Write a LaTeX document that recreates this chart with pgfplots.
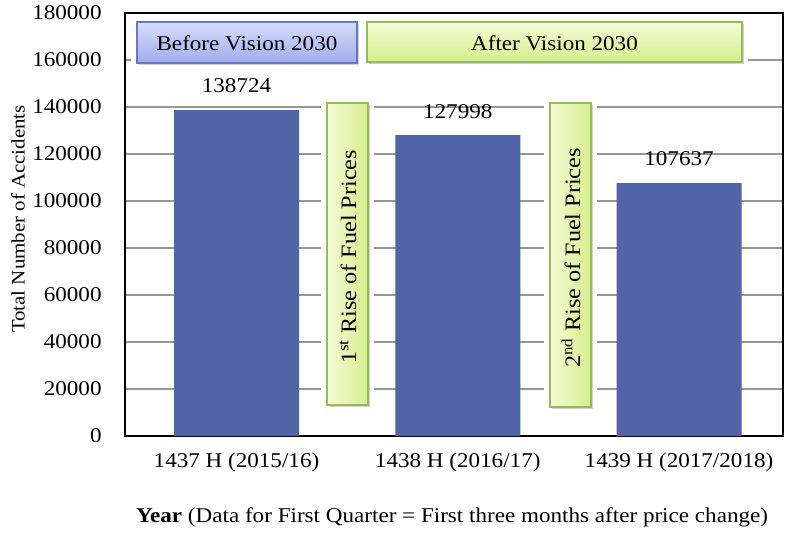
\documentclass[border=0pt]{standalone}
\usepackage{pgfplots}
\pgfplotsset{compat=1.18}
\usepackage{fontspec}
\setmainfont{Liberation Serif}[FakeStretch=1.1]
\usetikzlibrary{shadows}

\definecolor{barblue}{RGB}{81,100,167}
\definecolor{gridgray}{RGB}{150,150,150}
\definecolor{bvtop}{RGB}{214,220,252}
\definecolor{bvbot}{RGB}{160,174,234}
\definecolor{bvline}{RGB}{104,120,196}
\definecolor{avtop}{RGB}{244,251,214}
\definecolor{avbot}{RGB}{214,238,140}
\definecolor{avline}{RGB}{150,186,86}

\pgfplotstableread{
x  y
0  138724
1  127998
2  107637
}\accidents

\begin{document}
\fontsize{10.5}{12}\selectfont
\begin{tikzpicture}
\begin{axis}[
    at={(0,0)}, anchor=south west,
    scale only axis,
    width=329pt, height=211.5pt,
    xmin=-0.504, xmax=2.47,
    ymin=0, ymax=180000,
    xtick=data,
    xticklabels={1437 H (2015/16), 1438 H (2016/17), 1439 H (2017/2018)},
    ytick={0,20000,...,180000},
    scaled y ticks=false,
    /pgf/number format/.cd, fixed, 1000 sep={}, assume math mode=true,
    /pgfplots/.cd,
    xtick style={draw=none},
    ytick style={draw=none},
    ymajorgrids=true,
    grid style={gridgray, line width=0.8pt},
    axis line style={black, line width=0.8pt},
    yticklabel style={xshift=-8pt},
    xticklabel style={yshift=-5pt},
    xlabel={\textbf{Year} (Data for First Quarter = First three months after price change)},
    xlabel style={at={(axis description cs:0.497,0)}, anchor=center, yshift=-40.5pt},
    ylabel={\fontsize{9.5}{11}\selectfont Total Number of Accidents},
    ylabel style={at={(axis description cs:-0.1626,0.513)}, anchor=center},
    nodes near coords={\pgfmathprintnumber[fixed,precision=0,1000 sep={}]{\pgfplotspointmeta}},
    every node near coord/.append style={anchor=center, yshift=12pt, black},
  ]
\addplot[ybar, bar width=62.5pt, fill=barblue, draw=none] table[x=x, y=y] {\accidents};
\end{axis}

\begin{scope}[shift={(-62.5pt,218pt)}, x=0.5pt, y=-0.5pt]
  % white halos that cut the grid lines
  \fill[white] (131,16) rectangle (748,69);
  \fill[white] (321,97) rectangle (374,411);
  \fill[white] (544,97) rectangle (597,413);
  % top boxes
  \draw[drop shadow={shadow xshift=1.2pt, shadow yshift=-1.2pt, opacity=0.35},
        top color=bvtop, bottom color=bvbot, draw=bvline, line width=0.7pt]
        (137,22) rectangle (357,63);
  \node at (247,43) {Before Vision 2030};
  \draw[drop shadow={shadow xshift=1.2pt, shadow yshift=-1.2pt, opacity=0.35},
        top color=avtop, bottom color=avbot, draw=avline, line width=0.7pt]
        (367,22) rectangle (742,62);
  \node at (554.5,43) {After Vision 2030};
  % vertical boxes
  \draw[drop shadow={shadow xshift=1.2pt, shadow yshift=-1.2pt, opacity=0.35},
        left color=avtop, right color=avbot, draw=avline, line width=0.7pt]
        (327,103) rectangle (368,405);
  \node[rotate=90, font=\fontsize{11}{13}\selectfont] at (348,257) {1\textsuperscript{st} Rise of Fuel Prices};
  \draw[drop shadow={shadow xshift=1.2pt, shadow yshift=-1.2pt, opacity=0.35},
        left color=avtop, right color=avbot, draw=avline, line width=0.7pt]
        (550,103) rectangle (591,407);
  \node[rotate=90, font=\fontsize{11}{13}\selectfont] at (571,258) {2\textsuperscript{nd} Rise of Fuel Prices};
  \pgfresetboundingbox
  \path (0,0) rectangle (791,532);
\end{scope}
\end{tikzpicture}
\end{document}
